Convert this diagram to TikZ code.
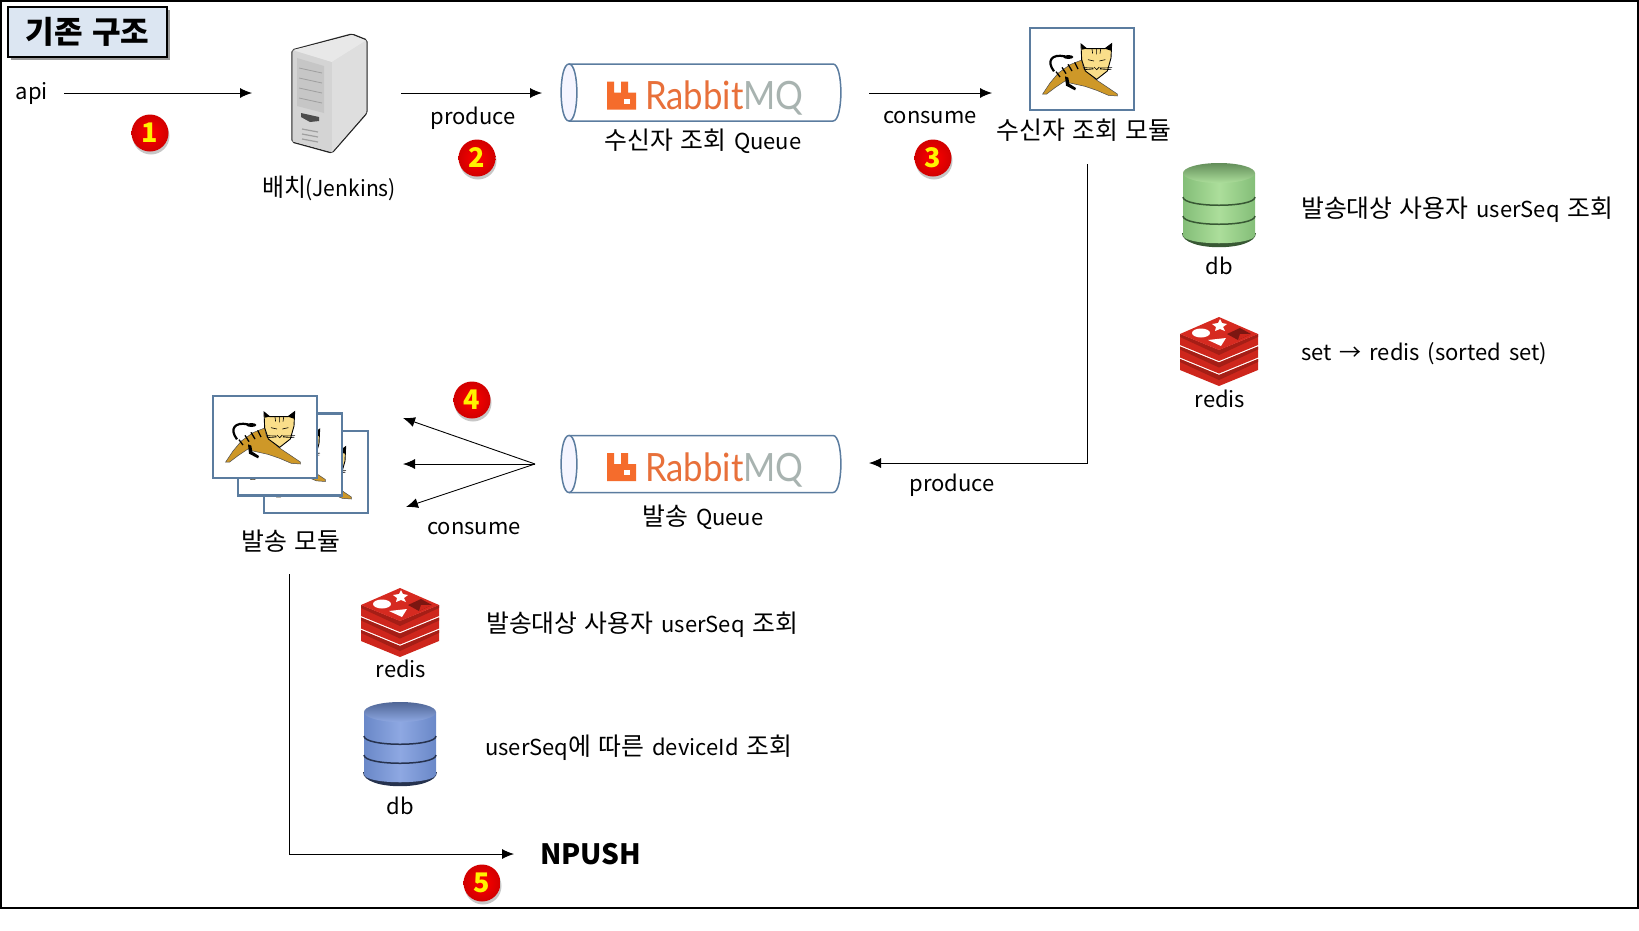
\documentclass[tikz,border=0pt]{standalone}
\usepackage{fontspec}
\setmainfont[WordSpace=1.6]{Noto Sans CJK KR}
\newfontfamily\krfont[Scale=1.13, WordSpace=1.3]{Noto Sans CJK KR}
\newfontfamily\rabbitfont{Lato}
\newcommand{\kr}[1]{{\krfont #1}}
\usetikzlibrary{arrows.meta,shadows,shapes.geometric}
\definecolor{framesteel}{RGB}{91, 124, 159}
\definecolor{titlefill}{RGB}{220, 230, 242}
\definecolor{rabbitorange}{RGB}{232, 112, 58}
\definecolor{rabbiticon}{RGB}{245, 108, 44}
\definecolor{rabbitgray}{RGB}{168, 179, 176}
\definecolor{catgold}{RGB}{206, 152, 40}
\definecolor{catface}{RGB}{250, 222, 138}
\definecolor{redistop}{RGB}{214, 42, 32}
\definecolor{redisside}{RGB}{206, 38, 28}
\definecolor{redisdark}{RGB}{165, 30, 22}
\definecolor{dbgreenedge}{RGB}{132, 190, 120}
\definecolor{dbgreenmid}{RGB}{172, 222, 155}
\definecolor{dbgreenline}{RGB}{56, 88, 52}
\definecolor{dbblueedge}{RGB}{106, 136, 200}
\definecolor{dbbluemid}{RGB}{142, 168, 226}
\definecolor{dbblueline}{RGB}{38, 50, 78}
\tikzset{
    txt/.style={font=\fontsize{22}{26}\selectfont, inner sep=0pt, text=black},
    flow/.style={line width=.9pt, -{Latex[length=12pt,width=10pt]}},
    badge/.style={circle, minimum size=37pt, inner sep=0pt, inner color=red, outer color=red!82!black,
                  text=yellow, font=\fontsize{27}{27}\selectfont\bfseries,
                  drop shadow={shadow xshift=1pt, shadow yshift=-3pt, opacity=.22, fill=black}},
    catbox/.style={rectangle, draw=framesteel, line width=2.4pt, fill=white, minimum width=104pt, minimum height=82pt, inner sep=0pt},
    pics/tomcat/.style={code={
        % tail
        \draw[black, line width=2.2pt] (-84,7) .. controls (-108,-25) and (-90,-46) .. (-52,-38);
        \fill[black] (-41,-36) ellipse [x radius=15, y radius=6];
        % body
        \fill[catgold, draw=black!70, line width=.5pt] (-118,75) -- (-96,42) -- (-71,12) -- (-36,-13) -- (-1,-27) -- (4,-3) -- (39,30) -- (69,50) -- (106,75)
            -- (106,81) -- (79,79) -- (44,64) -- (9,52) -- (-36,42) -- (-51,36) -- (-81,56) -- (-106,75) -- cycle;
        % rear leg
        \fill[black] (-51,22) -- (-48,50) -- (-21,64) -- (-18,57) -- (-38,44) -- (-41,26) -- cycle;
        % stripes
        \draw[black, line width=1.3pt] (-78,8) -- (-66,24) (-60,-5) -- (-48,14) (-42,-14) -- (-30,6) (-22,-20) -- (-12,0);
        % head
        \fill[catface, draw=black, line width=.9pt] (-3,-75) -- (14,-61) -- (69,-61) -- (89,-76) -- (87,-33) -- (76,6) -- (44,31) -- (10,6) -- (-1,-28) -- cycle;
        \fill[black] (-3,-75) -- (14,-61) -- (-1,-58) -- cycle;
        \fill[black] (89,-76) -- (69,-61) -- (87,-55) -- cycle;
        % face
        \draw[black, line width=.6pt] (30,-60) -- (32,-46) (43,-60) -- (43,-44) (56,-60) -- (54,-46);
        \draw[black, line width=.6pt] (18,-28) -- (36,-24) (52,-24) -- (70,-28) (36,-6) -- (44,2) -- (52,-6);
        \draw[black, line width=.6pt] (4,-4) -- (34,-3) (54,-3) -- (90,-4) (6,2) -- (34,0) (54,0) -- (88,2);
    }},
    pics/mqqueue/.style={code={
        % tube
        \draw[framesteel, line width=1.5pt, fill=white] (-132,-28.5) -- (132,-28.5) .. controls (142.5,-28.5) and (142.5,28.5) .. (132,28.5) -- (-132,28.5);
        \draw[framesteel, line width=1.5pt, fill=blue!4] (-132,-28.5) .. controls (-121.5,-28.5) and (-121.5,28.5) .. (-132,28.5)
            .. controls (-142.5,28.5) and (-142.5,-28.5) .. (-132,-28.5) -- cycle;
        % logo
        \fill[rabbiticon] (-94,17) -- (-94,-11) -- (-87,-11) -- (-87,0) -- (-80,0) -- (-80,-11) -- (-73,-11) -- (-73,0) -- (-65,0) -- (-65,17) -- cycle;
        \fill[white] (-77,6) rectangle (-71,11);
        \node[anchor=west, inner sep=0pt, xscale=.89, font=\fontsize{39}{39}\selectfont\rabbitfont] (-logo) at (-56,6)
            {\textcolor{rabbitorange}{Rabbit}\textcolor{rabbitgray}{MQ}};
    }},
    pics/dbicon/.style n args={3}{code={
        % bottom rim
        \fill[#3] (-37,60) .. controls (-37,79) and (37,79) .. (37,60) -- cycle;
        \path[left color=#1, right color=#1, middle color=#2] (-36,0) -- (-36,62) .. controls (-36,73) and (36,73) .. (36,62) -- (36,0) -- cycle;
        % bands
        \draw[#3, line width=1.5pt] (-36,24) .. controls (-36,35) and (36,35) .. (36,24);
        \draw[#3, line width=1.5pt] (-36,43) .. controls (-36,54) and (36,54) .. (36,43);
        % lid
        \path[top color=#1!75!black, bottom color=#2] (0,0) ellipse [x radius=36, y radius=10];
    }},
    pics/redisicon/.style={code={
        \foreach \s in {25,12.5,0}{
            \fill[redisside] (-39,17+\s) -- (0,33+\s) -- (39,17+\s) -- (39,28+\s) -- (0,44+\s) -- (-39,28+\s) -- cycle;
            \fill[redisdark] (-39,17+\s) -- (0,33+\s) -- (39,17+\s) -- (39,20+\s) -- (0,38+\s) -- (-39,20+\s) -- cycle;
        }
        \fill[redistop] (0,0) -- (39,17) -- (0,33) -- (-39,17) -- cycle;
        % marks
        \fill[white] (-18,16) ellipse [x radius=9, y radius=4.5];
        \fill[white] (1,2) -- (3,6) -- (8,7) -- (4,10) -- (6,14) -- (1,12) -- (-4,14) -- (-3,10) -- (-7,7) -- (-1,6) -- cycle;
        \fill[white] (-11,23) -- (7,21) -- (2,29) -- cycle;
        \fill[redisdark!75!black] (8,17) -- (21,11) -- (32,17) -- (19,23) -- cycle;
        \fill[redisside] (19,23) -- (32,17) -- (21,17) -- cycle;
    }}
}
\begin{document}
\begin{tikzpicture}[x=1pt, y=-1pt]
    \useasboundingbox (0,0) rectangle (1639,930);
    % Frame
    \draw[black, line width=1.5pt] (1,1) rectangle (1638,908);
    \node[rectangle, draw=black, line width=1.8pt, fill=titlefill, minimum width=159pt, minimum height=50pt, inner sep=0pt,
          font=\fontsize{27.5}{30}\selectfont\bfseries, drop shadow={shadow xshift=3pt, shadow yshift=-3pt, opacity=.4, fill=black}] (title) at (87.5,32) {\kr{기존 구조}};

    % Batch
    \node[txt] (api) at (32,93) {api};
    \coordinate (apiout)  at (64,93);
    \coordinate (batchin) at (252,93);
    \draw[flow] (apiout) -- (batchin);
    \node[badge] (one) at (150,133) {1};
    \draw[black!85, line width=1.3pt, fill=gray!25, rounded corners=2pt] (292,50) -- (352,34) -- (367,40) -- (367,113) -- (332,153) -- (292,142) -- cycle;
    \fill[gray!34]  (292.7,50.3) -- (332,62) -- (332,152) -- (292.7,141.5) -- cycle;
    \fill[gray!18]  (293,50) -- (352,35) -- (366,40.5) -- (332,62) -- cycle;
    \fill[gray!26]  (332,62) -- (366.3,40.5) -- (366.3,112.5) -- (332,152) -- cycle;
    \fill[gray!45]  (297,58) -- (324,66) -- (324,113) -- (297,106) -- cycle;
    \foreach \yy in {68,78,88,98}{
        \draw[gray!75, line width=.8pt] (299,\yy) -- (322,\yy+5);
    }
    \fill[black!70] (301,113) -- (319,117) -- (319,121) -- (310,122) -- (301,117) -- cycle;
    \foreach \yy in {129,134,139}{
        \draw[gray!75, line width=1.2pt] (302,\yy) -- (318,\yy+3);
    }
    \node[txt, xscale=.96] (batch) at (329,188) {\kr{배치}(Jenkins)};

    % Receiver queue
    \coordinate (batchout) at (401,93);
    \coordinate (rqin)     at (542,93);
    \draw[flow] (batchout) -- (rqin);
    \node[txt] (produceA) at (473,118) {produce};
    \node[badge] (two) at (477,158) {2};
    \pic (rq) at (701,92.5) {mqqueue};
    \node[txt] (rqlabel) at (703,141) {\kr{수신자 조회} Queue};

    % Receiver module
    \coordinate (rqout) at (869,93);
    \coordinate (rcin)  at (992,93);
    \draw[flow] (rqout) -- (rcin);
    \node[txt] (consumeA) at (930,118) {consume};
    \node[badge] (three) at (933,158) {3};
    \node[catbox] (rcbox) at (1082,69) {};
    \pic[scale=1/3] at (rcbox) {tomcat};
    \node[txt] (rclabel) at (1084,130) {\kr{수신자 조회 모듈}};

    % Receiver module stores
    \pic at (1219,173) {dbicon={dbgreenedge}{dbgreenmid}{dbgreenline}};
    \node[txt] (dbA) at (1219,266) {db};
    \node[txt, anchor=west] (dbAtext) at (1301,210) {\kr{발송대상 사용자} userSeq \kr{조회}};
    \pic at (1219,317) {redisicon};
    \node[txt] (redisA) at (1220,399) {redis};
    \node[txt, anchor=west] (redisAtext) at (1301,354) {set → redis (sorted set)};

    % Send queue
    \coordinate (rcout)  at (1087,164);
    \coordinate (sqturn) at (1087,463);
    \coordinate (sqin)   at (869,463);
    \draw[flow] (rcout) -- (sqturn) -- (sqin);
    \node[txt] (produceB) at (952,485) {produce};
    \pic (sq) at (701,464) {mqqueue};
    \node[txt] (sqlabel) at (703,517) {\kr{발송} Queue};

    % Send modules
    \node[catbox] (sendC) at (316,472) {};
    \pic[scale=1/3] at (sendC) {tomcat};
    \node[catbox] (sendB) at (290,454.5) {};
    \pic[scale=1/3] at (sendB) {tomcat};
    \node[catbox] (sendA) at (265,437) {};
    \pic[scale=1/3] at (sendA) {tomcat};
    \node[txt] (sendlabel) at (291,541) {\kr{발송 모듈}};
    \coordinate (sqout) at (535,464);
    \coordinate (sendtop) at (403,418);
    \coordinate (sendmid) at (403,464);
    \coordinate (sendbot) at (406,507);
    \draw[flow] (sqout) -- (sendtop);
    \draw[flow] (sqout) -- (sendmid);
    \draw[flow] (sqout) -- (sendbot);
    \node[badge] (four) at (472,400) {4};
    \node[txt] (consumeB) at (474,529) {consume};

    % Send module stores
    \pic at (400,588) {redisicon};
    \node[txt] (redisB) at (401,669) {redis};
    \node[txt, anchor=west] (redisBtext) at (486,625) {\kr{발송대상 사용자} userSeq \kr{조회}};
    \pic at (400,712) {dbicon={dbblueedge}{dbbluemid}{dbblueline}};
    \node[txt] (dbB) at (400,806) {db};
    \node[txt, anchor=west] (dbBtext) at (485,748) {userSeq\kr{에 따른} deviceId \kr{조회}};

    % NPUSH
    \coordinate (sendout)  at (289,574);
    \coordinate (pushturn) at (289,854);
    \coordinate (pushin)   at (514,854);
    \draw[flow] (sendout) -- (pushturn) -- (pushin);
    \node[txt, anchor=west, font=\fontsize{28}{30}\selectfont\bfseries] (npush) at (540,854) {NPUSH};
    \node[badge] (five) at (482,883) {5};
\end{tikzpicture}
\end{document}
